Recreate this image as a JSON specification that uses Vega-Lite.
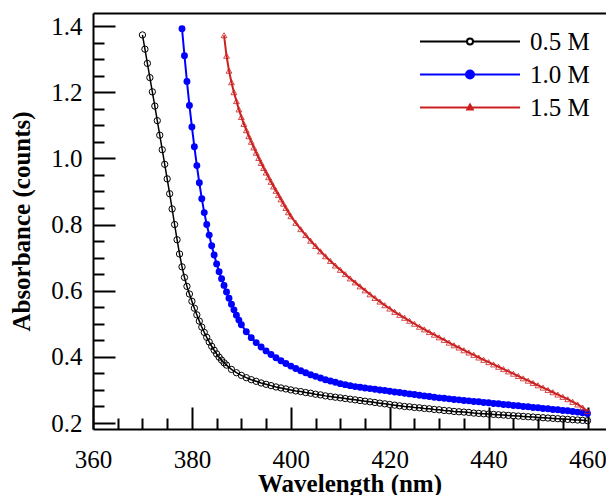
{
"$schema": "https://vega.github.io/schema/vega-lite/v6.json",
"width": 513, "height": 416,
"autosize": {"type": "none"},
"padding": {"left": 93, "top": 13, "right": 0, "bottom": 66},
"background": "white",
"config": {"view": {"stroke": null}},
"datasets": {
"black": [
{"x":370.0,"y":1.373},{"x":370.5,"y":1.33},{"x":371.0,"y":1.287},{"x":371.5,"y":1.244},{"x":372.0,"y":1.201},{"x":372.5,"y":1.158},{"x":373.0,"y":1.114},{"x":373.5,"y":1.07},{"x":374.0,"y":1.026},{"x":374.5,"y":0.982},{"x":375.0,"y":0.938},{"x":375.5,"y":0.893},{"x":376.0,"y":0.847},{"x":376.5,"y":0.8},{"x":377.0,"y":0.754},{"x":377.5,"y":0.711},{"x":378.0,"y":0.672},{"x":378.5,"y":0.64},{"x":379.0,"y":0.613},{"x":379.5,"y":0.59},{"x":380.0,"y":0.568},{"x":380.5,"y":0.547},{"x":381.0,"y":0.527},{"x":381.5,"y":0.508},{"x":382.0,"y":0.49},{"x":382.5,"y":0.474},{"x":383.0,"y":0.459},{"x":383.5,"y":0.445},{"x":384.0,"y":0.432},{"x":384.5,"y":0.42},{"x":385.0,"y":0.409},{"x":385.5,"y":0.399},{"x":386.0,"y":0.39},{"x":386.5,"y":0.382},
{"x":387,"y":0.375},{"x":388,"y":0.362},{"x":389,"y":0.352},{"x":390,"y":0.344},{"x":391,"y":0.337},{"x":392,"y":0.331},{"x":393,"y":0.326},{"x":394,"y":0.321},{"x":395,"y":0.317},{"x":396,"y":0.313},{"x":397,"y":0.309},{"x":398,"y":0.306},{"x":399,"y":0.303},
{"x":400,"y":0.3},{"x":401,"y":0.297},{"x":402,"y":0.295},{"x":403,"y":0.292},{"x":404,"y":0.29},{"x":405,"y":0.287},{"x":406,"y":0.285},{"x":407,"y":0.282},{"x":408,"y":0.28},{"x":409,"y":0.278},{"x":410,"y":0.276},{"x":411,"y":0.274},{"x":412,"y":0.272},{"x":413,"y":0.27},{"x":414,"y":0.268},{"x":415,"y":0.266},{"x":416,"y":0.264},{"x":417,"y":0.262},{"x":418,"y":0.26},{"x":419,"y":0.258},{"x":420,"y":0.256},{"x":421,"y":0.254},{"x":422,"y":0.252},{"x":423,"y":0.25},{"x":424,"y":0.249},{"x":425,"y":0.247},{"x":426,"y":0.246},{"x":427,"y":0.244},{"x":428,"y":0.243},{"x":429,"y":0.241},{"x":430,"y":0.24},{"x":431,"y":0.238},{"x":432,"y":0.237},{"x":433,"y":0.235},{"x":434,"y":0.234},{"x":435,"y":0.233},{"x":436,"y":0.232},{"x":437,"y":0.23},{"x":438,"y":0.229},{"x":439,"y":0.228},{"x":440,"y":0.227},{"x":441,"y":0.226},{"x":442,"y":0.225},{"x":443,"y":0.224},{"x":444,"y":0.223},{"x":445,"y":0.222},{"x":446,"y":0.221},{"x":447,"y":0.22},{"x":448,"y":0.219},{"x":449,"y":0.218},{"x":450,"y":0.217},{"x":451,"y":0.216},{"x":452,"y":0.215},{"x":453,"y":0.214},{"x":454,"y":0.213},{"x":455,"y":0.212},{"x":456,"y":0.211},{"x":457,"y":0.21},{"x":458,"y":0.209},{"x":459,"y":0.208},{"x":460,"y":0.207}
],
"blue": [
{"x":378.0,"y":1.392},{"x":378.5,"y":1.31},{"x":379.0,"y":1.232},{"x":379.5,"y":1.16},{"x":380.0,"y":1.095},{"x":380.5,"y":1.035},{"x":381.0,"y":0.978},{"x":381.5,"y":0.926},{"x":382.0,"y":0.878},{"x":382.5,"y":0.836},{"x":383.0,"y":0.8},{"x":383.5,"y":0.768},{"x":384.0,"y":0.736},{"x":384.5,"y":0.708},{"x":385.0,"y":0.681},{"x":385.5,"y":0.657},{"x":386.0,"y":0.636},{"x":386.5,"y":0.616},{"x":387.0,"y":0.596},{"x":387.5,"y":0.577},{"x":388.0,"y":0.559},{"x":388.5,"y":0.542},{"x":389.0,"y":0.526},{"x":389.5,"y":0.511},{"x":390.0,"y":0.497},
{"x":391,"y":0.476},{"x":392,"y":0.458},{"x":393,"y":0.443},{"x":394,"y":0.43},{"x":395,"y":0.418},{"x":396,"y":0.407},{"x":397,"y":0.397},{"x":398,"y":0.388},{"x":399,"y":0.38},{"x":400,"y":0.372},{"x":401,"y":0.365},{"x":402,"y":0.358},{"x":403,"y":0.352},{"x":404,"y":0.346},{"x":405,"y":0.341},{"x":406,"y":0.336},{"x":407,"y":0.331},{"x":408,"y":0.327},{"x":409,"y":0.323},{"x":410,"y":0.319},{"x":411,"y":0.316},{"x":412,"y":0.313},{"x":413,"y":0.31},{"x":414,"y":0.308},{"x":415,"y":0.306},{"x":416,"y":0.304},{"x":417,"y":0.302},{"x":418,"y":0.3},{"x":419,"y":0.298},{"x":420,"y":0.296},{"x":421,"y":0.294},{"x":422,"y":0.292},{"x":423,"y":0.29},{"x":424,"y":0.288},{"x":425,"y":0.286},{"x":426,"y":0.284},{"x":427,"y":0.282},{"x":428,"y":0.28},{"x":429,"y":0.278},{"x":430,"y":0.276},{"x":431,"y":0.275},{"x":432,"y":0.273},{"x":433,"y":0.271},{"x":434,"y":0.27},{"x":435,"y":0.268},{"x":436,"y":0.267},{"x":437,"y":0.265},{"x":438,"y":0.264},{"x":439,"y":0.262},{"x":440,"y":0.261},{"x":441,"y":0.259},{"x":442,"y":0.258},{"x":443,"y":0.256},{"x":444,"y":0.255},{"x":445,"y":0.253},{"x":446,"y":0.252},{"x":447,"y":0.25},{"x":448,"y":0.249},{"x":449,"y":0.247},{"x":450,"y":0.246},{"x":451,"y":0.244},{"x":452,"y":0.243},{"x":453,"y":0.241},{"x":454,"y":0.24},{"x":455,"y":0.238},{"x":456,"y":0.237},{"x":457,"y":0.235},{"x":458,"y":0.233},{"x":459,"y":0.231},{"x":460,"y":0.229}
],
"red": [
{"x":386.5,"y":1.372},{"x":387.0,"y":1.31},{"x":387.5,"y":1.265},{"x":388.0,"y":1.23},{"x":388.5,"y":1.2},{"x":389.0,"y":1.173},{"x":389.5,"y":1.148},{"x":390.0,"y":1.125},{"x":390.5,"y":1.104},{"x":391.0,"y":1.085},{"x":391.5,"y":1.067},{"x":392.0,"y":1.05},{"x":392.5,"y":1.033},{"x":393.0,"y":1.017},{"x":393.5,"y":1.001},{"x":394.0,"y":0.986},{"x":394.5,"y":0.971},{"x":395.0,"y":0.957},{"x":395.5,"y":0.943},{"x":396.0,"y":0.929},{"x":396.5,"y":0.915},{"x":397.0,"y":0.902},{"x":397.5,"y":0.889},{"x":398.0,"y":0.876},{"x":398.5,"y":0.863},{"x":399.0,"y":0.85},{"x":399.5,"y":0.837},{"x":400.0,"y":0.825},
{"x":401,"y":0.805},{"x":402,"y":0.786},{"x":403,"y":0.768},{"x":404,"y":0.751},{"x":405,"y":0.735},{"x":406,"y":0.719},{"x":407,"y":0.704},{"x":408,"y":0.69},{"x":409,"y":0.676},{"x":410,"y":0.663},{"x":411,"y":0.65},{"x":412,"y":0.637},{"x":413,"y":0.625},{"x":414,"y":0.613},{"x":415,"y":0.601},{"x":416,"y":0.589},{"x":417,"y":0.578},{"x":418,"y":0.567},{"x":419,"y":0.556},{"x":420,"y":0.546},{"x":421,"y":0.536},{"x":422,"y":0.527},{"x":423,"y":0.518},{"x":424,"y":0.509},{"x":425,"y":0.5},{"x":426,"y":0.491},{"x":427,"y":0.483},{"x":428,"y":0.475},{"x":429,"y":0.467},{"x":430,"y":0.459},{"x":431,"y":0.451},{"x":432,"y":0.443},{"x":433,"y":0.435},{"x":434,"y":0.428},{"x":435,"y":0.42},{"x":436,"y":0.413},{"x":437,"y":0.406},{"x":438,"y":0.398},{"x":439,"y":0.391},{"x":440,"y":0.384},{"x":441,"y":0.377},{"x":442,"y":0.37},{"x":443,"y":0.363},{"x":444,"y":0.356},{"x":445,"y":0.349},{"x":446,"y":0.342},{"x":447,"y":0.335},{"x":448,"y":0.328},{"x":449,"y":0.321},{"x":450,"y":0.314},{"x":451,"y":0.307},{"x":452,"y":0.3},{"x":453,"y":0.293},{"x":454,"y":0.286},{"x":455,"y":0.279},{"x":456,"y":0.272},{"x":457,"y":0.264},{"x":458,"y":0.256},{"x":459,"y":0.247},{"x":460,"y":0.236}
]
},
"resolve": {"axis": {"x": "independent", "y": "independent"}},
"layer": [
{
"data": {"name": "black"},
"mark": {"type": "line", "strokeWidth": 1.5},
"encoding": {
"x": {"field": "x", "type": "quantitative", "scale": {"domain": [360, 463.74], "nice": false, "zero": false},
 "axis": {"values": [360,365,370,375,380,385,390,395,400,405,410,415,420,425,430,435,440,445,450,455,460],
  "labelExpr": "datum.value % 20 === 0 ? datum.label : ''",
  "tickSize": {"condition": {"test": "datum.value % 20 === 0", "value": -22}, "value": -11},
  "tickColor": "black", "tickWidth": 2, "domainColor": "black", "domainWidth": 2, "grid": false,
  "labelFont": "Liberation Serif", "labelFontSize": 25, "labelColor": "black", "labelPadding": 40,
  "labelFlush": false, "labelOverlap": false,
  "title": "Wavelength (nm)", "titleFont": "Liberation Serif", "titleFontSize": 25, "titleFontWeight": "bold", "titleColor": "black", "titlePadding": -12}},
"y": {"field": "y", "type": "quantitative", "scale": {"domain": [0.1819, 1.4393], "nice": false, "zero": false},
 "axis": {"values": [0.2,0.25,0.3,0.35,0.4,0.45,0.5,0.55,0.6,0.65,0.7,0.75,0.8,0.85,0.9,0.95,1.0,1.05,1.1,1.15,1.2,1.25,1.3,1.35,1.4],
  "labelExpr": "abs(datum.value*5 - round(datum.value*5)) < 0.01 ? format(datum.value, '.1f') : ''",
  "tickSize": {"condition": {"test": "abs(datum.value*5 - round(datum.value*5)) < 0.01", "value": -22}, "value": -11},
  "tickColor": "black", "tickWidth": 2, "domainColor": "black", "domainWidth": 2, "grid": false,
  "labelFont": "Liberation Serif", "labelFontSize": 25, "labelColor": "black", "labelPadding": 33,
  "labelFlush": false, "labelOverlap": false,
  "title": "Absorbance (counts)", "titleFont": "Liberation Serif", "titleFontSize": 25, "titleFontWeight": "bold", "titleColor": "black", "titlePadding": 16}},
"color": {"datum": "0.5 M", "type": "nominal",
 "scale": {"domain": ["0.5 M", "1.0 M", "1.5 M"], "range": ["#000000", "#0000ff", "#cc2020"]},
 "legend": {"orient": "none", "legendX": 326, "legendY": 12, "title": null, "padding": 0,
  "symbolSize": 10000, "clipHeight": 33, "labelFont": "Liberation Serif", "labelFontSize": 25, "labelColor": "black", "labelOffset": 9, "rowPadding": 0,
  "encode": {"symbols": {"update": {
   "shape": [{"test": "datum.value === '0.5 M'", "value": "M-1,0H-0.06M0.06,0H1M0.06,0A0.06,0.06 0 1 1 -0.06,0A0.06,0.06 0 1 1 0.06,0Z"},
             {"test": "datum.value === '1.0 M'", "value": "M-1,0H1M0.08,0A0.08,0.08 0 1 1 -0.08,0A0.08,0.08 0 1 1 0.08,0Z"},
             {"value": "M-1,0H1M0,-0.06L0.055,0.04L-0.055,0.04Z"}],
   "fillOpacity": [{"test": "datum.value === '1.0 M'", "value": 1}, {"value": 0}],
   "stroke": {"scale": "color", "field": "value"},
   "strokeWidth": {"value": 2},
   "opacity": {"value": 1}}}}}}
}
},
{
"data": {"name": "black"},
"mark": {"type": "point", "shape": "circle", "filled": false, "size": 40, "strokeWidth": 1, "opacity": 1},
"encoding": {
"x": {"field": "x", "type": "quantitative", "axis": null},
"y": {"field": "y", "type": "quantitative", "axis": null},
"color": {"datum": "0.5 M", "type": "nominal"}
}
},
{
"data": {"name": "blue"},
"mark": {"type": "line", "strokeWidth": 2},
"encoding": {
"x": {"field": "x", "type": "quantitative", "axis": null},
"y": {"field": "y", "type": "quantitative", "axis": null},
"color": {"datum": "1.0 M", "type": "nominal"}
}
},
{
"data": {"name": "blue"},
"mark": {"type": "point", "shape": "circle", "filled": true, "size": 48, "opacity": 1},
"encoding": {
"x": {"field": "x", "type": "quantitative", "axis": null},
"y": {"field": "y", "type": "quantitative", "axis": null},
"color": {"datum": "1.0 M", "type": "nominal"}
}
},
{
"data": {"name": "red"},
"mark": {"type": "line", "strokeWidth": 2},
"encoding": {
"x": {"field": "x", "type": "quantitative", "axis": {"orient": "top", "labels": false, "ticks": false, "domain": true, "domainColor": "black", "domainWidth": 2, "grid": false, "title": null}},
"y": {"field": "y", "type": "quantitative", "axis": null},
"color": {"datum": "1.5 M", "type": "nominal"}
}
},
{
"data": {"name": "red"},
"mark": {"type": "point", "shape": "triangle-up", "filled": false, "size": 34, "strokeWidth": 0.8, "opacity": 1},
"encoding": {
"x": {"field": "x", "type": "quantitative", "axis": null},
"y": {"field": "y", "type": "quantitative", "axis": null},
"color": {"datum": "1.5 M", "type": "nominal"}
}
}
]
}
